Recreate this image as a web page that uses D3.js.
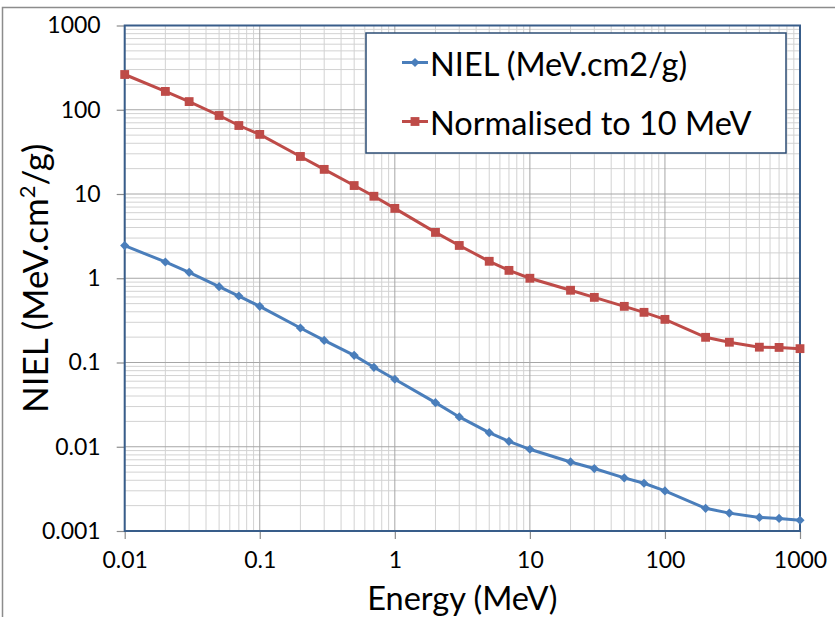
<!DOCTYPE html>
<html>
<head>
<meta charset="utf-8">
<script src="https://cdn.jsdelivr.net/npm/d3@7"></script>
<style>
  body { margin: 0; background: #fff; }
  text { font-family: Lato, "Open Sans", sans-serif; fill: #000; }
</style>
</head>
<body>
<div id="chart"></div>
<script>
// energies (MeV) shared by both series
var energy = [0.01, 0.02, 0.03, 0.05, 0.07, 0.1, 0.2, 0.3, 0.5, 0.7, 1, 2, 3, 5, 7, 10, 20, 30, 50, 70, 100, 200, 300, 500, 700, 1000];
var niel = [2.44, 1.56, 1.175, 0.794, 0.615, 0.464, 0.257, 0.183, 0.1216, 0.0877, 0.0632, 0.0334, 0.0226, 0.0147, 0.0116, 0.00933, 0.0066, 0.00551, 0.00427, 0.00369, 0.00299, 0.00186, 0.00163, 0.00145, 0.00141, 0.00134];
var normalised = [262, 165, 125, 85.5, 65, 51, 27.9, 19.6, 12.6, 9.4, 6.75, 3.5, 2.45, 1.59, 1.24, 1.0, 0.72, 0.593, 0.464, 0.394, 0.325, 0.199, 0.174, 0.152, 0.151, 0.146];
var xTicks = [0.01, 0.1, 1, 10, 100, 1000];
var xTickLabels = ["0.01", "0.1", "1", "10", "100", "1000"];
var yTicks = [0.001, 0.01, 0.1, 1, 10, 100, 1000];
var yTickLabels = ["0.001", "0.01", "0.1", "1", "10", "100", "1000"];
var seriesNames = ["NIEL (MeV.cm2/g)", "Normalised to 10 MeV"];
var seriesColors = ["#4a7ebb", "#be4b48"];

var W = 835, H = 617;
var pLeft = 124.7, pRight = 800, pTop = 25.5, pBottom = 531;

var svg = d3.select("#chart").append("svg")
    .attr("width", W)
    .attr("height", H);

// outer chart border
svg.append("rect")
    .attr("x", 2.5).attr("y", 7.5)
    .attr("width", 900).attr("height", 700)
    .attr("fill", "none")
    .attr("stroke", "#8c8c8c")
    .attr("stroke-width", 1.5);

var x = d3.scaleLog().domain([0.01, 1000]).range([pLeft, pRight]);
var y = d3.scaleLog().domain([0.001, 1000]).range([pBottom, pTop]);

// minor gridlines
var minorX = [], minorY = [];
for (var e = -2; e < 3; e++) {
    for (var m = 2; m < 10; m++) minorX.push(m * Math.pow(10, e));
}
for (var e = -3; e < 3; e++) {
    for (var m = 2; m < 10; m++) minorY.push(m * Math.pow(10, e));
}
var grid = svg.append("g");
grid.selectAll(".mx").data(minorX).enter().append("line")
    .attr("x1", d => x(d)).attr("x2", d => x(d))
    .attr("y1", pTop).attr("y2", pBottom)
    .attr("stroke", "#d2d2d2").attr("stroke-width", 1);
grid.selectAll(".my").data(minorY).enter().append("line")
    .attr("y1", d => y(d)).attr("y2", d => y(d))
    .attr("x1", pLeft).attr("x2", pRight)
    .attr("stroke", "#d2d2d2").attr("stroke-width", 1);
grid.selectAll(".Mx").data(xTicks).enter().append("line")
    .attr("x1", d => x(d)).attr("x2", d => x(d))
    .attr("y1", pTop).attr("y2", pBottom)
    .attr("stroke", "#a6a6a6").attr("stroke-width", 1);
grid.selectAll(".My").data(yTicks).enter().append("line")
    .attr("y1", d => y(d)).attr("y2", d => y(d))
    .attr("x1", pLeft).attr("x2", pRight)
    .attr("stroke", "#a6a6a6").attr("stroke-width", 1);

// axes
var xAxis = svg.append("g")
    .attr("transform", "translate(0," + pBottom + ")")
    .call(d3.axisBottom(x).tickValues(xTicks).tickSize(8).tickPadding(13)
        .tickFormat((d, i) => xTickLabels[i]));
var yAxis = svg.append("g")
    .attr("transform", "translate(" + pLeft + ",0)")
    .call(d3.axisLeft(y).tickValues(yTicks).tickSize(8).tickPadding(16)
        .tickFormat((d, i) => yTickLabels[i]));
[xAxis, yAxis].forEach(function (a) {
    a.select(".domain").remove();
    a.selectAll(".tick line").attr("stroke", "#8c8c8c").attr("stroke-width", 1.2);
    a.selectAll(".tick text").style("font-size", "23px").attr("fill", "#000");
});

// plot area border
svg.append("rect")
    .attr("x", pLeft).attr("y", pTop)
    .attr("width", pRight - pLeft).attr("height", pBottom - pTop)
    .attr("fill", "none")
    .attr("stroke", "#385d8a")
    .attr("stroke-width", 2);

// series
var allSeries = [niel, normalised];
var line = d3.line().x((d, i) => x(energy[i])).y(d => y(d));
allSeries.forEach(function (vals, k) {
    svg.append("path")
        .datum(vals)
        .attr("fill", "none")
        .attr("stroke", seriesColors[k])
        .attr("stroke-width", 3)
        .attr("d", line);
});

function marker(g, k) {
    if (k === 0) {
        g.append("path")
            .attr("d", d3.symbol().type(d3.symbolSquare).size(42)())
            .attr("transform", "rotate(45)")
            .attr("fill", seriesColors[k]);
    } else {
        g.append("path")
            .attr("d", d3.symbol().type(d3.symbolSquare).size(78)())
            .attr("fill", seriesColors[k]);
    }
}

allSeries.forEach(function (vals, k) {
    svg.append("g").selectAll("g").data(vals).enter().append("g")
        .attr("transform", (d, i) => "translate(" + x(energy[i]) + "," + y(d) + ")")
        .each(function () { marker(d3.select(this), k); });
});

// legend
var lg = svg.append("g");
lg.append("rect")
    .attr("x", 366).attr("y", 33)
    .attr("width", 420).attr("height", 120)
    .attr("fill", "#fff")
    .attr("stroke", "#2c4d75")
    .attr("stroke-width", 1.5);
var legendY = [62.5, 121.5];
seriesNames.forEach(function (name, k) {
    lg.append("line")
        .attr("x1", 402).attr("x2", 428)
        .attr("y1", legendY[k]).attr("y2", legendY[k])
        .attr("stroke", seriesColors[k]).attr("stroke-width", 3);
    var mg = lg.append("g").attr("transform", "translate(415," + legendY[k] + ")");
    marker(mg, k);
    lg.append("text")
        .attr("x", 430).attr("y", legendY[k] + 13)
        .style("font-size", "32.5px")
        .text(name);
});

// axis titles
svg.append("text")
    .attr("x", (pLeft + pRight) / 2).attr("y", 610)
    .attr("text-anchor", "middle")
    .style("font-size", "32.5px")
    .text("Energy (MeV)");

var yt = svg.append("text")
    .attr("transform", "translate(48," + (pTop + pBottom) / 2 + ") rotate(-90)")
    .attr("text-anchor", "middle")
    .style("font-size", "35px");
yt.append("tspan").text("NIEL (MeV.cm");
yt.append("tspan").attr("dy", -13).style("font-size", "22px").text("2");
yt.append("tspan").attr("dy", 13).text("/g)");
</script>
</body>
</html>
